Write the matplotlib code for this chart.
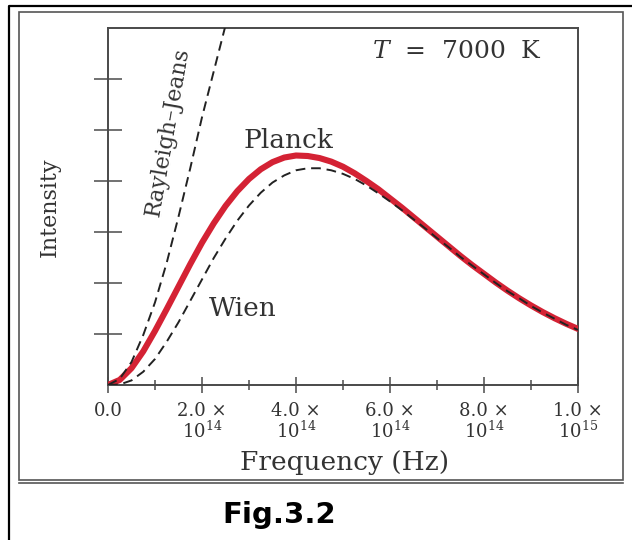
"""
Planck vs Rayleigh-Jeans vs Wien radiation curves at T = 7000 K (Fig.3.2).
"""

import numpy as np
import matplotlib
matplotlib.use('Agg')
import matplotlib.pyplot as plt
from matplotlib.lines import Line2D
from matplotlib.patches import Rectangle

# Frequency grid in units of 1e14 Hz (arbitrary intensity units)
freq_e14 = [0.0, 0.25, 0.5, 0.75, 1.0, 1.25, 1.5, 1.75, 2.0, 2.25, 2.5, 2.75, 3.0,
            3.25, 3.5, 3.75, 4.0, 4.25, 4.5, 4.75, 5.0, 5.25, 5.5, 5.75, 6.0,
            6.25, 6.5, 6.75, 7.0, 7.25, 7.5, 7.75, 8.0, 8.25, 8.5, 8.75, 9.0,
            9.25, 9.5, 9.75, 10.0]
planck = [0.0, 0.10, 0.33, 0.66, 1.06, 1.49, 1.93, 2.37, 2.79, 3.17, 3.51, 3.80, 4.04,
          4.23, 4.37, 4.46, 4.50, 4.49, 4.45, 4.38, 4.28, 4.15, 4.00, 3.84, 3.66,
          3.48, 3.29, 3.10, 2.91, 2.72, 2.53, 2.35, 2.18, 2.01, 1.85, 1.70, 1.56,
          1.43, 1.31, 1.20, 1.10]
wien = [0.0, 0.01, 0.09, 0.26, 0.51, 0.85, 1.23, 1.65, 2.07, 2.49, 2.87, 3.22, 3.52,
        3.77, 3.97, 4.11, 4.21, 4.25, 4.25, 4.21, 4.14, 4.04, 3.91, 3.76, 3.60,
        3.43, 3.25, 3.07, 2.88, 2.70, 2.51, 2.34, 2.17, 2.00, 1.84, 1.70, 1.55,
        1.42, 1.30, 1.18, 1.08]

rj_freq_e14 = [0.0, 0.25, 0.5, 0.75, 1.0, 1.25, 1.5, 1.75, 2.0, 2.25, 2.5]
rayleigh_jeans = [0.0, 0.12, 0.45, 0.98, 1.62, 2.40, 3.30, 4.25, 5.25, 6.15, 7.05]

xtick_vals = [0, 2e14, 4e14, 6e14, 8e14, 1e15]
xtick_labels = ['0.0', '2.0 ×\n10$^{14}$', '4.0 ×\n10$^{14}$', '6.0 ×\n10$^{14}$',
                '8.0 ×\n10$^{14}$', '1.0 ×\n10$^{15}$']
xminor_vals = [1e14, 3e14, 5e14, 7e14, 9e14]
ytick_vals = [1, 2, 3, 4, 5, 6]

plt.rcParams['font.family'] = ['DejaVu Serif']
plt.rcParams['mathtext.fontset'] = 'dejavuserif'

TXT = '#333333'
SPINE = '#4a4a4a'
RED = '#d42234'

fig = plt.figure(figsize=(6.32, 5.40), dpi=100)
fig.patch.set_facecolor('white')
ax = fig.add_axes([108 / 632, 1 - 385 / 540, 470 / 632, 357 / 540])

nu = np.array(freq_e14) * 1e14
nu_rj = np.array(rj_freq_e14) * 1e14

ax.plot(nu, planck, color=RED, lw=4.4, solid_capstyle='round', zorder=3)
ax.plot(nu, wien, color='#222222', lw=1.4, linestyle=(0, (5, 3)), zorder=4)
ax.plot(nu_rj, rayleigh_jeans, color='#222222', lw=1.4, linestyle=(0, (5, 3)), zorder=4)

ax.set_xlim(0, 1e15)
ax.set_ylim(0, 7)

ax.set_xticks(xtick_vals)
ax.set_xticklabels(xtick_labels, fontsize=13, color=TXT, linespacing=1.05)
ax.set_xticks(xminor_vals, minor=True)
ax.set_yticks(ytick_vals)
ax.set_yticklabels([])
ax.tick_params(axis='x', which='major', direction='inout', length=12, width=1.1,
               color=SPINE, pad=6)
ax.tick_params(axis='x', which='minor', direction='inout', length=7, width=1.1,
               color=SPINE)
ax.tick_params(axis='y', which='major', direction='inout', length=20, width=1.1,
               color=SPINE)

for side in ['left', 'right', 'top', 'bottom']:
    ax.spines[side].set_color(SPINE)
    ax.spines[side].set_linewidth(1.4)

ax.set_xlabel('Frequency (Hz)', fontsize=19, color=TXT)
ax.xaxis.set_label_coords(0.504, -0.183)
ax.set_ylabel('Intensity', fontsize=16, color=TXT, va='center')
ax.yaxis.set_label_coords(-0.123, 0.499)

# curve labels
ax.text(0.383, 0.686, 'Planck', transform=ax.transAxes, fontsize=19, color=TXT,
        ha='center', va='center')
ax.text(0.287, 0.213, 'Wien', transform=ax.transAxes, fontsize=19, color=TXT,
        ha='center', va='center')
ax.text(0.128, 0.709, 'Rayleigh–Jeans', transform=ax.transAxes, fontsize=16,
        color=TXT, ha='center', va='center', rotation=80, rotation_mode='anchor')
ax.text(0.743, 0.933, '$T$  =  7000  K', transform=ax.transAxes, fontsize=18,
        color=TXT, ha='center', va='center')

# page frame around the figure (scanned look)
fig.add_artist(Rectangle((19 / 632, 1 - 480 / 540), 604 / 632, 468 / 540,
                         transform=fig.transFigure, fill=False, ec='#555555', lw=1.2))
fig.add_artist(Line2D([19 / 632, 623 / 632], [1 - 483 / 540, 1 - 483 / 540],
                      transform=fig.transFigure, color='#555555', lw=1.2))
fig.add_artist(Line2D([9 / 632, 9 / 632, 1.0], [0.0, 1 - 6 / 540, 1 - 6 / 540],
                      transform=fig.transFigure, color='black', lw=1.6))

fig.text(279 / 632, 1 - 523 / 540, 'Fig.3.2', fontsize=21, fontweight='bold',
         family=['DejaVu Sans'], color='black', ha='center', va='baseline')

plt.savefig('out.png', dpi=100)
plt.close()
